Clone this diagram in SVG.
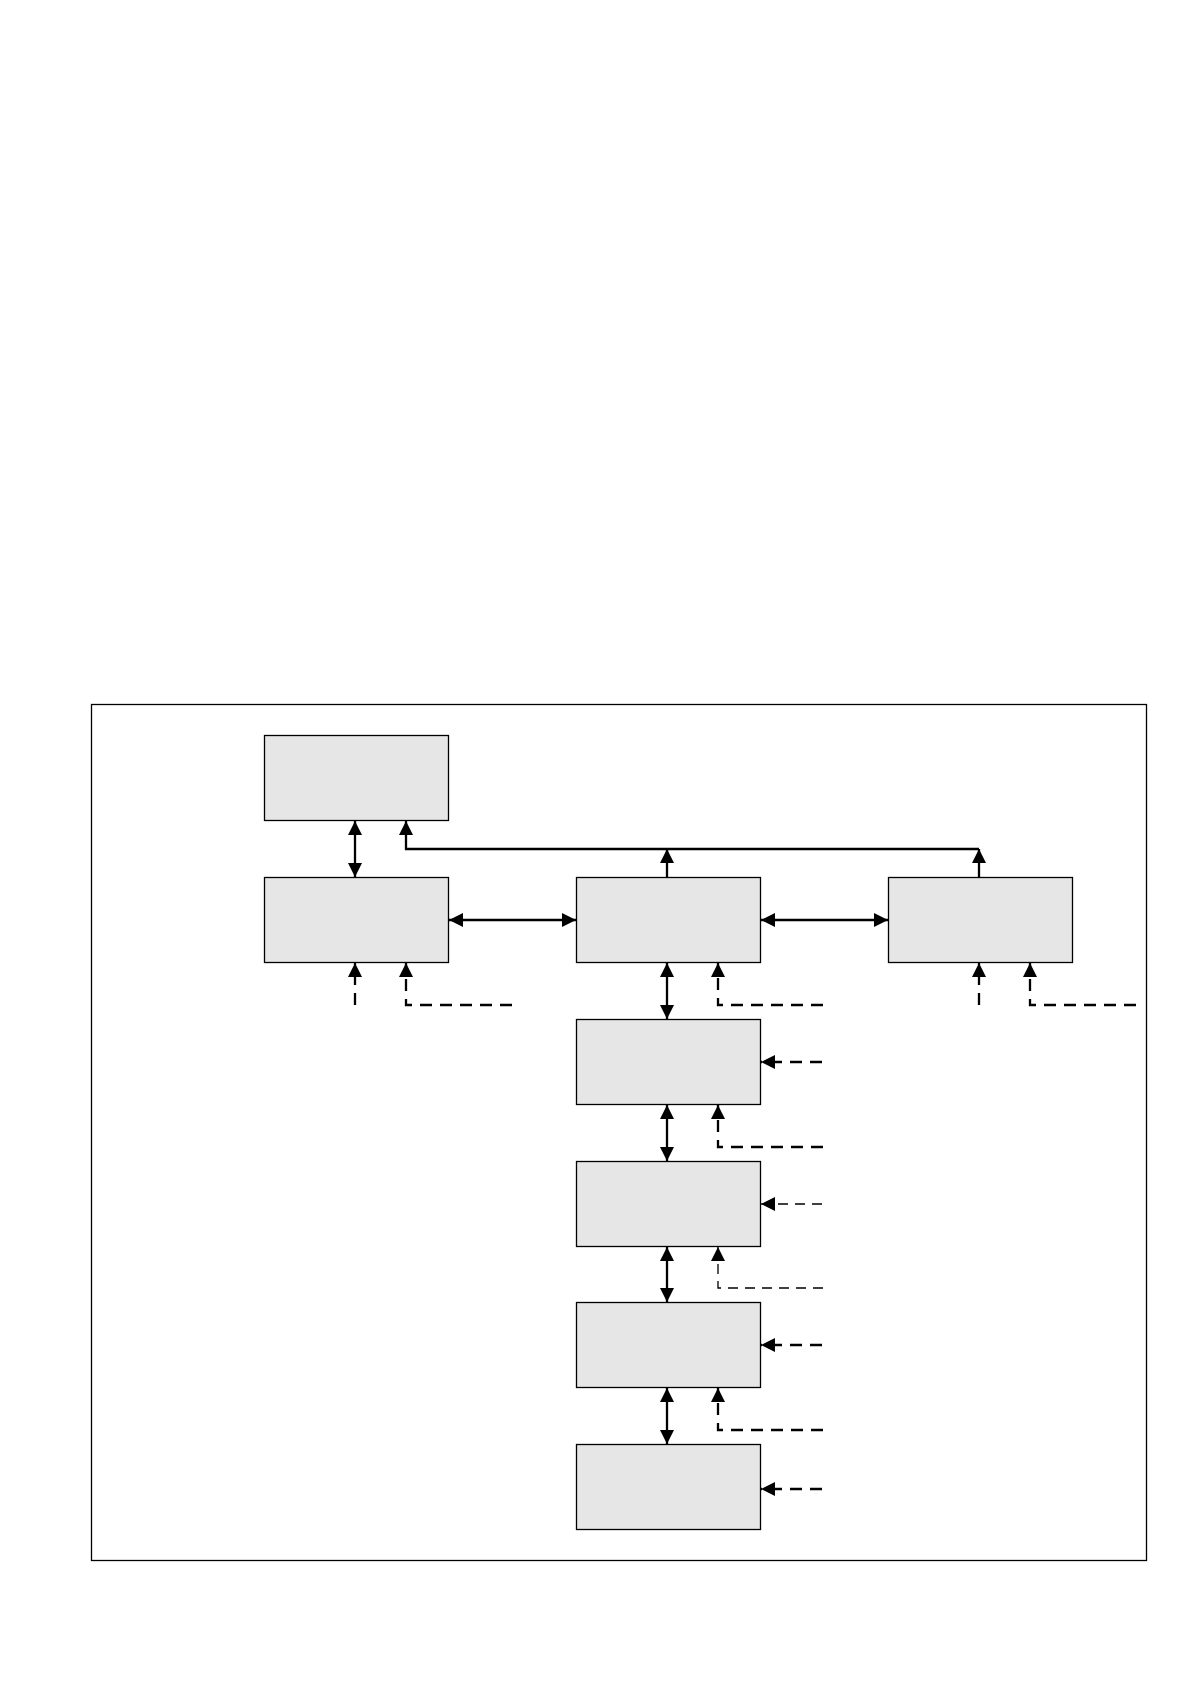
<svg xmlns="http://www.w3.org/2000/svg" width="1190" height="1684" viewBox="0 0 1190 1684">
<style>
.box{fill:#e6e6e6;stroke:#000;stroke-width:1.3}
.c{fill:none;stroke:#000;stroke-width:2.3}
.d{fill:none;stroke:#000;stroke-width:2.3;stroke-dasharray:12 8}
.t{fill:none;stroke:#000;stroke-width:1.3;stroke-dasharray:10 7}
</style>
<defs>
<marker id="ah" markerUnits="userSpaceOnUse" markerWidth="14" markerHeight="14" viewBox="0 0 14 14" refX="14" refY="7" orient="auto-start-reverse">
<path d="M0,0 L14,7 L0,14 z" fill="#000"/>
</marker>
</defs>
<rect width="1190" height="1684" fill="#fff"/>
<rect id="frame" x="91.5" y="704.5" width="1055" height="856" fill="none" stroke="#000" stroke-width="1.3"/>
<g id="nodeA"><rect class="box" x="264.5" y="735.5" width="184" height="85"/></g>
<g id="nodeB"><rect class="box" x="264.5" y="877.5" width="184" height="85"/></g>
<g id="nodeC"><rect class="box" x="576.5" y="877.5" width="184" height="85"/></g>
<g id="nodeD"><rect class="box" x="888.5" y="877.5" width="184" height="85"/></g>
<g id="nodeE"><rect class="box" x="576.5" y="1019.5" width="184" height="85"/></g>
<g id="nodeF"><rect class="box" x="576.5" y="1161.5" width="184" height="85"/></g>
<g id="nodeG"><rect class="box" x="576.5" y="1302.5" width="184" height="85"/></g>
<g id="nodeH"><rect class="box" x="576.5" y="1444.5" width="184" height="85"/></g>
<g id="connectors">
<path class="c" d="M355,821 V877" marker-start="url(#ah)" marker-end="url(#ah)"/>
<path class="c" d="M979,877 V849" marker-end="url(#ah)"/>
<path class="c" d="M667,877 V849" marker-end="url(#ah)"/>
<path class="c" d="M979,849 H406 V821" marker-end="url(#ah)"/>
<path class="c" d="M449,920 H576" marker-start="url(#ah)" marker-end="url(#ah)"/>
<path class="c" d="M761,920 H888" marker-start="url(#ah)" marker-end="url(#ah)"/>
<path class="d" d="M355,1005 V963" marker-end="url(#ah)"/>
<path class="d" d="M512,1005 H406 V963" marker-end="url(#ah)"/>
<path class="c" d="M667,963 V1019" marker-start="url(#ah)" marker-end="url(#ah)"/>
<path class="d" d="M823,1005 H718 V963" marker-end="url(#ah)"/>
<path class="d" d="M979,1005 V963" marker-end="url(#ah)"/>
<path class="d" d="M1136,1005 H1030 V963" marker-end="url(#ah)"/>
<path class="d" d="M822,1062 H761" marker-end="url(#ah)"/>
<path class="c" d="M667,1105 V1161" marker-start="url(#ah)" marker-end="url(#ah)"/>
<path class="d" d="M823,1147 H718 V1105" marker-end="url(#ah)"/>
<path class="t" d="M822,1204 H761" marker-end="url(#ah)"/>
<path class="c" d="M667,1247 V1302" marker-start="url(#ah)" marker-end="url(#ah)"/>
<path class="t" d="M823,1288 H718 V1247" marker-end="url(#ah)"/>
<path class="d" d="M822,1345 H761" marker-end="url(#ah)"/>
<path class="c" d="M667,1388 V1444" marker-start="url(#ah)" marker-end="url(#ah)"/>
<path class="d" d="M823,1430 H718 V1388" marker-end="url(#ah)"/>
<path class="d" d="M822,1489 H761" marker-end="url(#ah)"/>
</g>
</svg>
